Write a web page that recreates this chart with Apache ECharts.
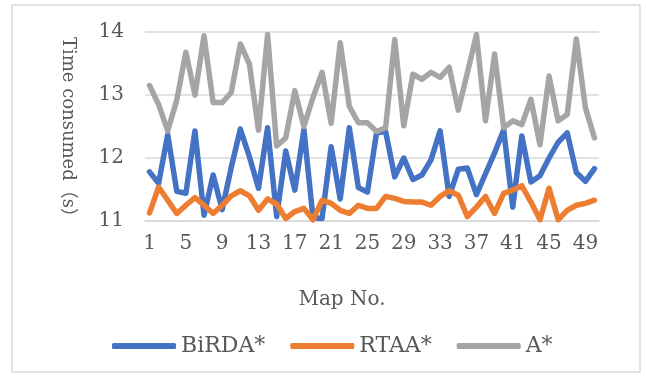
<!DOCTYPE html>
<html>
<head>
<meta charset="utf-8">
<script src="https://cdn.jsdelivr.net/npm/echarts@6/dist/echarts.min.js"></script>
<style>
  html, body { margin: 0; padding: 0; background: #ffffff; }
  #chart { width: 646px; height: 380px; }
</style>
</head>
<body>
<div id="chart"></div>
<script>
// Map numbers 1..50
const mapNumbers = Array.from({ length: 50 }, (_, i) => String(i + 1));

// Time consumed (s) per map
const birdaTimes = [
  11.78, 11.60, 12.37, 11.47, 11.44, 12.43, 11.09, 11.73, 11.18, 11.85,
  12.46, 12.02, 11.52, 12.48, 11.07, 12.11, 11.49, 12.45, 11.05, 11.04,
  12.18, 11.35, 12.48, 11.53, 11.46, 12.40, 12.42, 11.70, 12.00, 11.66,
  11.73, 11.97, 12.43, 11.39, 11.82, 11.84, 11.42, 11.75, 12.08, 12.45,
  11.22, 12.35, 11.62, 11.72, 12.00, 12.25, 12.40, 11.77, 11.63, 11.83
];
const rtaaTimes = [
  11.13, 11.54, 11.33, 11.12, 11.25, 11.37, 11.25, 11.12, 11.25, 11.40,
  11.48, 11.40, 11.17, 11.35, 11.27, 11.04, 11.15, 11.20, 11.02, 11.33,
  11.28, 11.17, 11.12, 11.25, 11.20, 11.20, 11.39, 11.36, 11.31, 11.30,
  11.30, 11.25, 11.39, 11.48, 11.41, 11.07, 11.22, 11.39, 11.12, 11.44,
  11.49, 11.56, 11.30, 11.02, 11.52, 11.02, 11.17, 11.25, 11.28, 11.33
];
const aStarTimes = [
  13.15, 12.85, 12.43, 12.92, 13.68, 13.00, 13.94, 12.88, 12.88, 13.04,
  13.81, 13.49, 12.44, 13.96, 12.19, 12.32, 13.07, 12.50, 12.96, 13.36,
  12.55, 13.83, 12.82, 12.56, 12.56, 12.42, 12.48, 13.88, 12.51, 13.33,
  13.25, 13.36, 13.28, 13.44, 12.76, 13.35, 13.96, 12.59, 13.65, 12.48,
  12.59, 12.53, 12.93, 12.21, 13.30, 12.59, 12.69, 13.89, 12.80, 12.32
];

// Value axis ticks
const yMin = 11, yMax = 14, yStep = 1;

const textFont = '"DejaVu Serif", "Noto Sans CJK SC", serif';
const textColor = '#595959';

const chart = echarts.init(document.getElementById('chart'), null, { renderer: 'canvas' });

function lineSeries(name, data, color) {
  return {
    name: name,
    type: 'line',
    data: data,
    symbol: 'none',
    smooth: false,
    lineStyle: { color: color, width: 5.5, join: 'round', cap: 'round' },
    itemStyle: { color: color },
    emphasis: { disabled: true }
  };
}

chart.setOption({
  animation: false,
  backgroundColor: '#ffffff',
  graphic: [{
    type: 'rect',
    shape: { x: 12, y: 5, width: 628, height: 367 },
    style: { fill: 'none', stroke: '#d9d9d9', lineWidth: 1.5 },
    silent: true
  }],
  title: {
    text: 'Map No.',
    left: 337,
    top: 285,
    textAlign: 'center',
    textStyle: { fontFamily: textFont, fontSize: 20, fontWeight: 'normal', color: textColor }
  },
  grid: { left: 145, right: 47, top: 32, bottom: 159, containLabel: false },
  xAxis: {
    type: 'category',
    data: mapNumbers,
    boundaryGap: true,
    axisLine: { show: true, lineStyle: { color: '#d9d9d9', width: 1.5 } },
    axisTick: { show: false },
    axisLabel: {
      interval: 3,
      margin: 13,
      fontFamily: textFont,
      fontSize: 20,
      color: textColor
    },
    splitLine: { show: false }
  },
  yAxis: {
    type: 'value',
    min: yMin,
    max: yMax,
    interval: yStep,
    name: 'Time consumed（s）',
    nameLocation: 'middle',
    nameRotate: -90,
    nameGap: 68,
    nameTextStyle: { fontFamily: textFont, fontSize: 18, color: textColor, padding: [0, 0, 0, 10] },
    axisLine: { show: false },
    axisTick: { show: false },
    axisLabel: { margin: 21, fontFamily: textFont, fontSize: 20, color: textColor },
    splitLine: { lineStyle: { color: '#d9d9d9', width: 1.5 } }
  },
  legend: {
    left: 112,
    top: 335,
    padding: 0,
    itemWidth: 64,
    itemHeight: 6,
    itemGap: 25,
    icon: 'roundRect',
    textStyle: { fontFamily: textFont, fontSize: 22, color: textColor },
    data: ['BiRDA*', 'RTAA*', 'A*']
  },
  series: [
    lineSeries('BiRDA*', birdaTimes, '#4472c4'),
    lineSeries('RTAA*', rtaaTimes, '#ed7d31'),
    lineSeries('A*', aStarTimes, '#a5a5a5')
  ]
});
</script>
</body>
</html>
